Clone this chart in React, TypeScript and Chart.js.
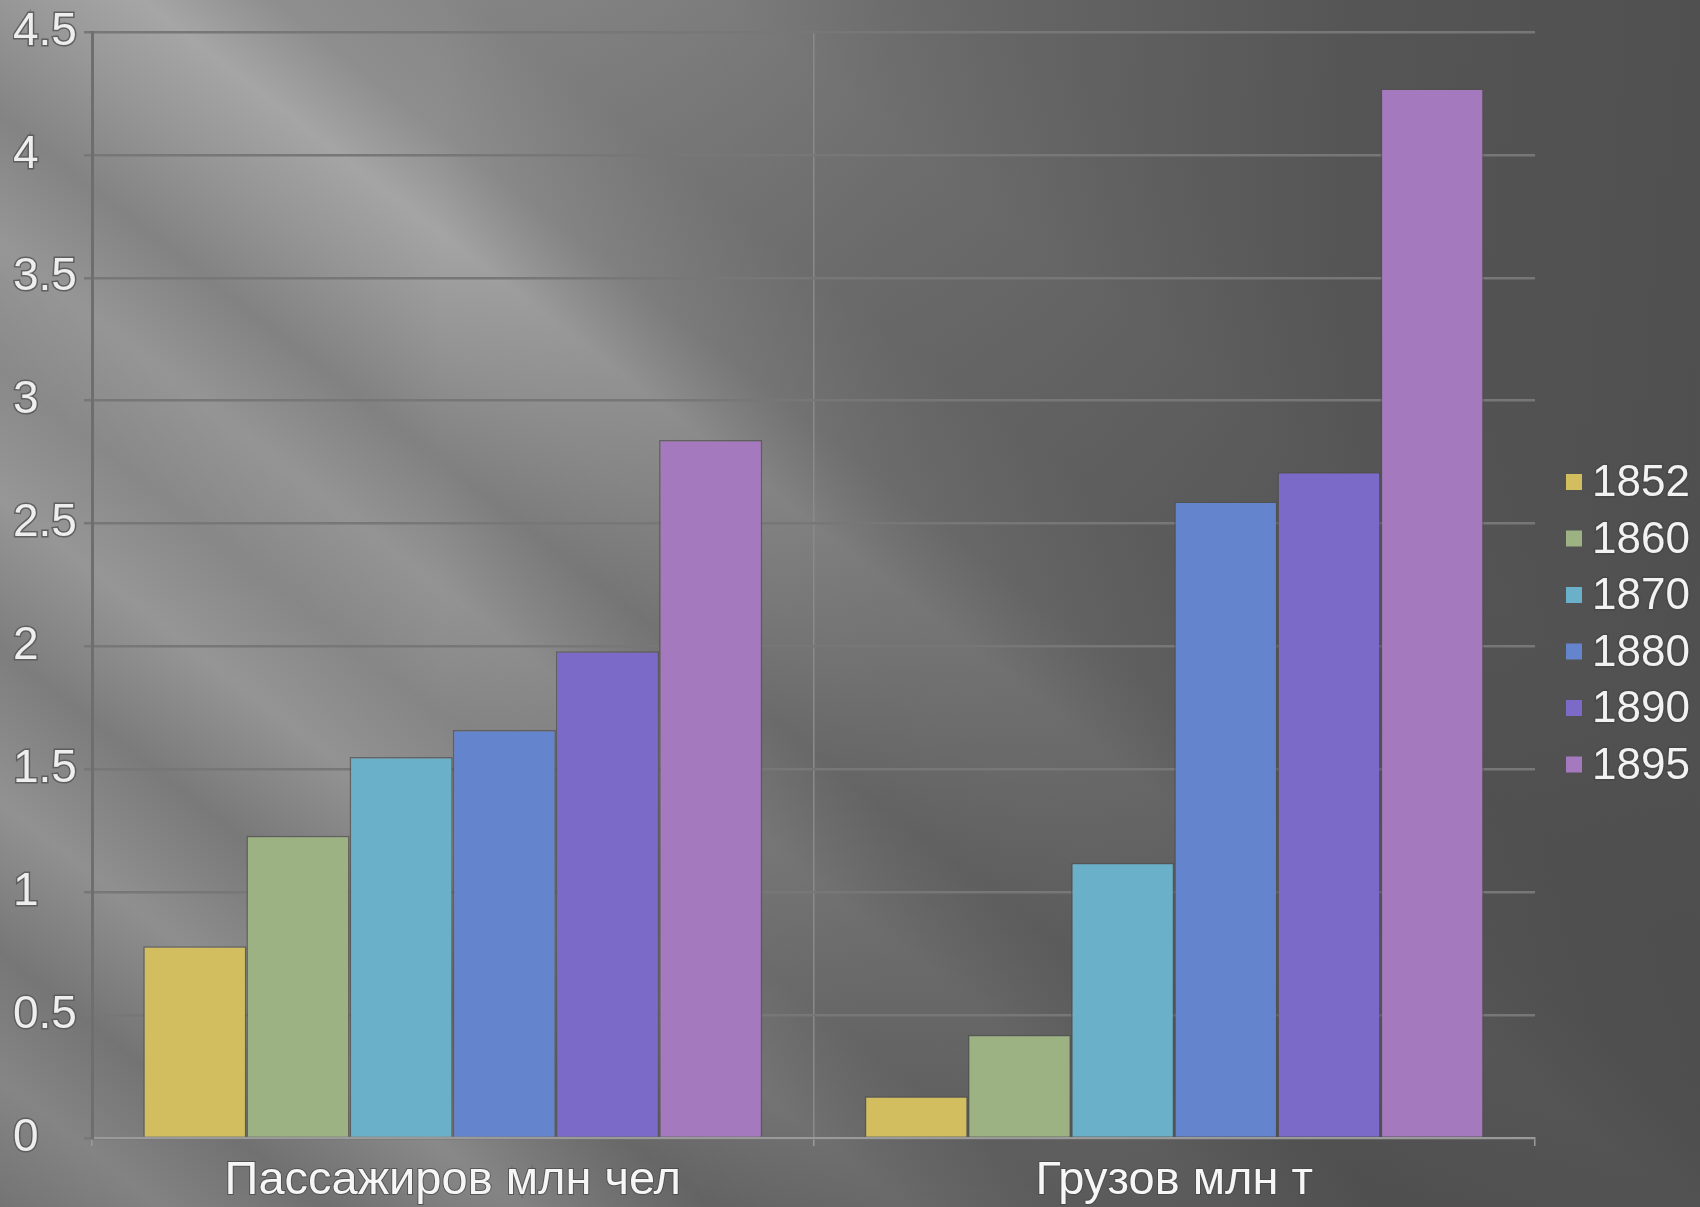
import React, { useEffect, useRef } from "react";
import { Chart, registerables } from "chart.js";

Chart.register(...registerables);

// ---- data ----
const categories = ["Пассажиров млн чел", "Грузов млн т"];
const years = ["1852", "1860", "1870", "1880", "1890", "1895"];
const v1852 = [0.78, 0.17];
const v1860 = [1.23, 0.42];
const v1870 = [1.55, 1.12];
const v1880 = [1.66, 2.59];
const v1890 = [1.98, 2.71];
const v1895 = [2.84, 4.27];
const seriesValues = [v1852, v1860, v1870, v1880, v1890, v1895];
const yTickLabels = ["0", "0.5", "1", "1.5", "2", "2.5", "3", "3.5", "4", "4.5"];
const yMin = 0;
const yMax = 4.5;
const yStep = 0.5;

// ---- styles ----
const colors = ["#D3BE5F", "#9DB282", "#6AB0C8", "#6485CE", "#7C6AC8", "#A579BD"];
const FONT = "'Liberation Sans', Arial, sans-serif";

const sideLegend = {
  id: "sideLegend",
  afterDraw(chart: any) {
    const ctx = chart.ctx as CanvasRenderingContext2D;
    ctx.save();
    ctx.font = `44px ${FONT}`;
    ctx.textBaseline = "middle";
    ctx.textAlign = "left";
    chart.data.datasets.forEach((ds: any, i: number) => {
      const y = 482 + i * 56.5;
      ctx.fillStyle = ds.backgroundColor;
      ctx.fillRect(1566, y - 8, 16, 16);
      ctx.lineWidth = 3;
      ctx.strokeStyle = "rgba(70,70,70,0.8)";
      ctx.strokeText(ds.label, 1592, y + 2);
      ctx.fillStyle = "#f2f2f2";
      ctx.fillText(ds.label, 1592, y + 2);
    });
    ctx.restore();
  },
};

const background = [
  "linear-gradient(to right, rgba(70,70,70,0) 0%, rgba(70,70,70,0) 26%, rgba(70,70,70,0.45) 52%, rgba(70,70,70,0.78) 80%, rgba(70,70,70,0.85) 100%)",
  "linear-gradient(38deg, rgba(255,255,255,0) 0%, rgba(255,255,255,0.10) 5%, rgba(0,0,0,0.04) 10%, rgba(255,255,255,0.14) 16%, rgba(0,0,0,0.05) 22%, rgba(255,255,255,0.14) 28%, rgba(255,255,255,0.02) 33%, rgba(255,255,255,0.12) 38%, rgba(0,0,0,0.04) 43%, rgba(255,255,255,0.12) 48%, rgba(255,255,255,0.24) 52%, rgba(255,255,255,0.04) 56%, rgba(0,0,0,0.03) 62%, rgba(255,255,255,0.07) 70%, rgba(255,255,255,0) 78%)",
  "linear-gradient(180deg, #8a8a8a 0%, #848484 55%, #747474 100%)",
].join(",");

export default function App() {
  const canvasRef = useRef<HTMLCanvasElement | null>(null);

  useEffect(() => {
    if (!canvasRef.current) return;
    const chart = new Chart(canvasRef.current, {
      type: "bar",
      data: {
        labels: categories,
        datasets: years.map((yr, i) => ({
          label: yr,
          data: seriesValues[i],
          backgroundColor: colors[i],
          borderColor: "rgba(80,80,80,0.7)",
          borderWidth: 1.5,
          categoryPercentage: 0.858,
          barPercentage: 1,
        })),
      },
      options: {
        responsive: false,
        animation: false,
        events: [],
        layout: { padding: { left: 13, top: 32, right: 165, bottom: 0 } },
        plugins: {
          legend: { display: false },
          tooltip: { enabled: false },
        },
        scales: {
          x: {
            ticks: {
              color: "#f6f6f6",
              font: { size: 47, family: FONT },
              padding: 7,
              maxRotation: 0,
              autoSkip: false,
              textStrokeColor: "rgba(70,70,70,0.7)",
              textStrokeWidth: 2,
            },
            grid: {
              offset: true,
              color: (c: any) => (c.index === 1 ? "#8a8a8a" : "rgba(0,0,0,0)"),
              lineWidth: 1.5,
              tickLength: 8,
              tickColor: "#9a9a9a",
            },
            border: { color: "#9a9a9a", width: 2 },
            afterFit: (s: any) => {
              s.height = 69;
            },
          },
          y: {
            min: yMin,
            max: yMax,
            ticks: {
              stepSize: yStep,
              color: "#eeeeee",
              font: { size: 46, family: FONT },
              crossAlign: "far",
              padding: 0,
              textStrokeColor: "rgba(90,90,90,0.9)",
              textStrokeWidth: 3,
              callback: (_v: any, i: number) => yTickLabels[i],
            },
            grid: { color: "#777777", lineWidth: 2.5, tickLength: 8, tickColor: "#777777" },
            border: { color: "#6e6e6e", width: 3 },
            afterFit: (s: any) => {
              s.width = 79;
            },
          },
        },
      },
      plugins: [sideLegend],
    } as any);
    return () => chart.destroy();
  }, []);

  return (
    <div
      style={{
        position: "absolute",
        left: 0,
        top: 0,
        width: 1700,
        height: 1207,
        background,
        overflow: "hidden",
      }}
    >
      <canvas ref={canvasRef} width={1700} height={1207} style={{ display: "block" }} />
    </div>
  );
}
